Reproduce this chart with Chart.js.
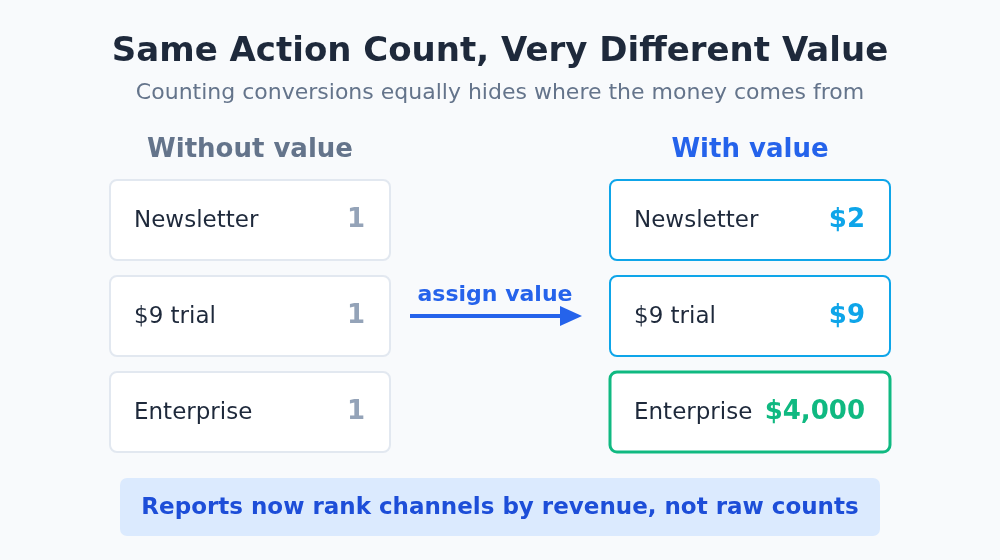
<!DOCTYPE html>
<html><head><meta charset="utf-8">
<script src="https://cdn.jsdelivr.net/npm/chart.js@4"></script>
<style>html,body{margin:0;padding:0;background:#f8fafc}canvas{display:block}</style>
</head><body>
<canvas id="c" width="1000" height="560"></canvas>
<script>
const categories = ["Newsletter", "$9 trial", "Enterprise"];
const countValues = [1, 1, 1];
const revenueValues = [2, 9, 4000];
const title = "Same Action Count, Very Different Value";
const subtitle = "Counting conversions equally hides where the money comes from";
const leftHeader = "Without value";
const rightHeader = "With value";
const arrowLabel = "assign value";
const footer = "Reports now rank channels by revenue, not raw counts";

const F = "'DejaVu Sans', sans-serif";
function rr(ctx, x, y, w, h, r) {
  ctx.beginPath(); ctx.moveTo(x + r, y); ctx.arcTo(x + w, y, x + w, y + h, r);
  ctx.arcTo(x + w, y + h, x, y + h, r); ctx.arcTo(x, y + h, x, y, r); ctx.arcTo(x, y, x + w, y, r); ctx.closePath();
}
const diagram = {
  id: 'diagram',
  beforeDraw(chart) {
    const ctx = chart.ctx, sx = chart.scales.x, sy = chart.scales.y;
    const X = v => sx.getPixelForValue(v), Y = v => sy.getPixelForValue(v);
    ctx.save();
    ctx.fillStyle = '#f8fafc'; ctx.fillRect(0, 0, chart.width, chart.height);
    ctx.textBaseline = 'middle';
    ctx.textAlign = 'center';
    ctx.fillStyle = '#1e293b'; ctx.font = `bold 34px ${F}`; ctx.fillText(title, X(500), Y(52));
    ctx.fillStyle = '#64748b'; ctx.font = `22px ${F}`; ctx.fillText(subtitle, X(500), Y(93));
    ctx.font = `bold 26px ${F}`;
    ctx.fillStyle = '#64748b'; ctx.fillText(leftHeader, X(250), Y(150));
    ctx.fillStyle = '#2563eb'; ctx.fillText(rightHeader, X(750), Y(150));
    categories.forEach((cat, i) => {
      const top = 180 + i * 96;
      rr(ctx, X(110), Y(top), X(390) - X(110), Y(top + 80) - Y(top), 7);
      ctx.fillStyle = '#fff'; ctx.fill(); ctx.strokeStyle = '#e2e8f0'; ctx.lineWidth = 2; ctx.stroke();
      ctx.textAlign = 'left'; ctx.fillStyle = '#1e293b'; ctx.font = `23px ${F}`;
      ctx.fillText(cat, X(134), Y(top + 41));
      ctx.textAlign = 'right'; ctx.fillStyle = '#94a3b8'; ctx.font = `bold 26px ${F}`;
      ctx.fillText(String(countValues[i]), X(365), Y(top + 40));
      const big = revenueValues[i] >= 1000;
      const col = big ? '#10b981' : '#0ea5e9';
      rr(ctx, X(610), Y(top), X(890) - X(610), Y(top + 80) - Y(top), 7);
      ctx.fillStyle = '#fff'; ctx.fill(); ctx.strokeStyle = col; ctx.lineWidth = big ? 3 : 2; ctx.stroke();
      ctx.textAlign = 'left'; ctx.fillStyle = '#1e293b'; ctx.font = `23px ${F}`;
      ctx.fillText(cat, X(634), Y(top + 41));
      ctx.textAlign = 'right'; ctx.fillStyle = col; ctx.font = `bold 26px ${F}`;
      ctx.fillText('$' + revenueValues[i].toLocaleString('en-US'), X(865), Y(top + 40));
    });
    ctx.strokeStyle = '#2563eb'; ctx.lineWidth = 4;
    ctx.beginPath(); ctx.moveTo(X(410), Y(316)); ctx.lineTo(X(562), Y(316)); ctx.stroke();
    ctx.fillStyle = '#2563eb'; ctx.beginPath();
    ctx.moveTo(X(582), Y(316)); ctx.lineTo(X(560), Y(306)); ctx.lineTo(X(560), Y(326)); ctx.closePath(); ctx.fill();
    ctx.textAlign = 'center'; ctx.font = `bold 22px ${F}`; ctx.fillText(arrowLabel, X(495), Y(295));
    rr(ctx, X(120), Y(478), X(880) - X(120), Y(536) - Y(478), 7);
    ctx.fillStyle = '#dbeafe'; ctx.fill();
    ctx.fillStyle = '#1d4ed8'; ctx.font = `bold 23px ${F}`; ctx.fillText(footer, X(500), Y(508));
    ctx.restore();
  }
};
new Chart(document.getElementById('c'), {
  type: 'scatter',
  data: { datasets: [{ data: [] }] },
  options: {
    responsive: false, animation: false, devicePixelRatio: 1,
    layout: { padding: 0 },
    plugins: { legend: { display: false }, tooltip: { enabled: false } },
    scales: {
      x: { type: 'linear', min: 0, max: 1000, display: false },
      y: { type: 'linear', min: 0, max: 560, reverse: true, display: false }
    }
  },
  plugins: [diagram]
});
</script>
</body></html>
